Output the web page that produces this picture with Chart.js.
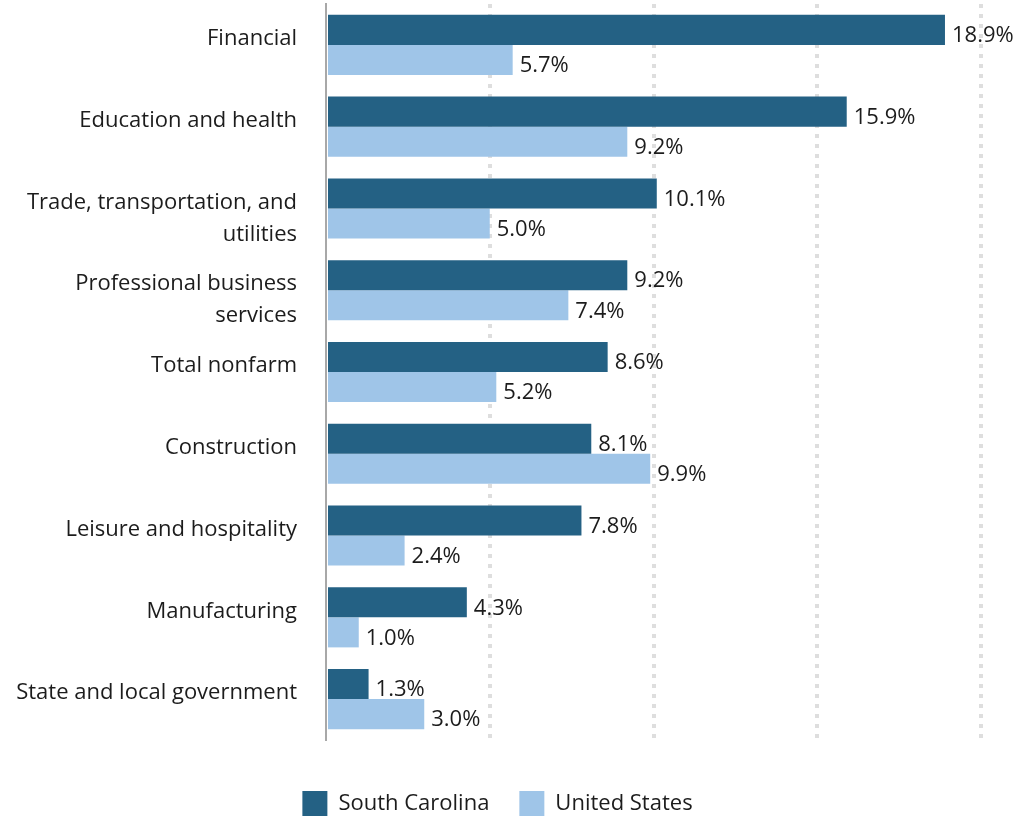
<!DOCTYPE html>
<html>
<head>
<meta charset="utf-8">
<script src="https://cdn.jsdelivr.net/npm/chart.js@4.4.0/dist/chart.umd.min.js"></script>
<style>
  html, body { margin: 0; padding: 0; background: #fff; }
  #wrap { width: 1015px; height: 818px; position: relative; }
</style>
</head>
<body>
<div id="wrap"><canvas id="jobsChart"></canvas></div>
<script>
// industries, top to bottom (leading blank line keeps two-line labels hanging below the bar centre)
const industries = [
  'Financial',
  'Education and health',
  ['', 'Trade, transportation, and', 'utilities'],
  ['', 'Professional business', 'services'],
  'Total nonfarm',
  'Construction',
  'Leisure and hospitality',
  'Manufacturing',
  'State and local government'
];
const southCarolina = [18.9, 15.9, 10.1, 9.2, 8.6, 8.1, 7.8, 4.3, 1.3];
const unitedStates = [5.7, 9.2, 5.0, 7.4, 5.2, 9.9, 2.4, 1.0, 3.0];
const gridTicks = [0, 5, 10, 15, 20];

const DARK = '#246184';
const LIGHT = '#9fc5e8';
const TEXT = '#1c1c1c';
const FONT = "'Open Sans', sans-serif";
const FONT_SIZE = 22;

// value labels at the end of each bar
const barValueLabels = {
  id: 'barValueLabels',
  afterDatasetsDraw(chart) {
    const ctx = chart.ctx;
    ctx.save();
    ctx.font = FONT_SIZE + 'px ' + FONT;
    ctx.fillStyle = TEXT;
    ctx.textAlign = 'left';
    ctx.textBaseline = 'middle';
    chart.data.datasets.forEach((ds, i) => {
      chart.getDatasetMeta(i).data.forEach((bar, j) => {
        ctx.fillText(ds.data[j].toFixed(1) + '%', bar.x + 7, bar.y + 6);
      });
    });
    ctx.restore();
  }
};

new Chart(document.getElementById('jobsChart'), {
  type: 'bar',
  data: {
    labels: industries,
    datasets: [
      { label: 'South Carolina', data: southCarolina, backgroundColor: DARK },
      { label: 'United States', data: unitedStates, backgroundColor: LIGHT }
    ]
  },
  options: {
    indexAxis: 'y',
    responsive: true,
    maintainAspectRatio: false,
    animation: false,
    categoryPercentage: 0.735,
    barPercentage: 1.0,
    layout: { padding: { top: 4, right: 34, bottom: -8, left: 14 } },
    scales: {
      x: {
        min: 0,
        max: 20,
        afterBuildTicks: (scale) => { scale.ticks = gridTicks.map(v => ({ value: v })); },
        afterFit: (scale) => { scale.height = 21; },
        ticks: { display: false },
        border: { display: false, dash: [4, 6] },
        grid: {
          drawTicks: false,
          color: (c) => c.tick && c.tick.value === 0 ? 'rgba(0,0,0,0)' : '#dedede',
          lineWidth: 4
        }
      },
      y: {
        afterFit: (scale) => {
          scale.width = 312;
          // labels may spill past the plot edges, no need to reserve room for that
          scale.paddingTop = 0;
          scale.paddingBottom = 0;
        },
        border: { display: true, color: '#a8a8a8', width: 2 },
        grid: { display: false, drawTicks: false },
        ticks: {
          autoSkip: false,
          padding: 29,
          labelOffset: -6,
          color: TEXT,
          font: { family: FONT, size: FONT_SIZE, lineHeight: 32 / FONT_SIZE }
        }
      }
    },
    plugins: {
      legend: {
        position: 'bottom',
        labels: {
          boxWidth: 25,
          boxHeight: 25,
          padding: 30,
          color: TEXT,
          font: { family: FONT, size: FONT_SIZE }
        }
      },
      tooltip: { enabled: false }
    }
  },
  plugins: [barValueLabels]
});
</script>
</body>
</html>
